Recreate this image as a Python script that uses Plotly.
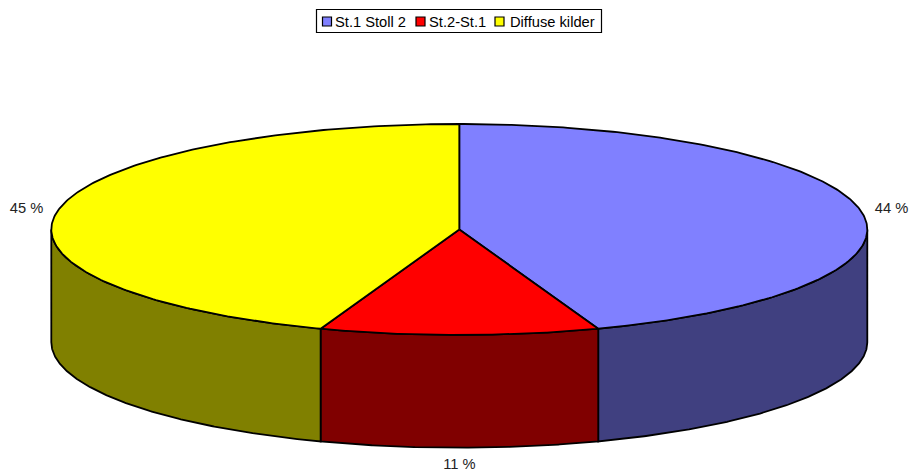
import numpy as np
import plotly.graph_objects as go

# Data
categories = ["St.1 Stoll 2", "St.2-St.1", "Diffuse kilder"]
values = [44.47, 11.05, 44.48]
percent_labels = ["44 %", "11 %", "45 %"]
top_colors = ["#8080FF", "#FF0000", "#FFFF00"]
side_colors = ["#404080", "#800000", "#808000"]

# Pie geometry (axis units equal pixels)
CX, CY, RX, RY, DEPTH = 459.3, 229.5, 408.0, 105.5, 112.7
LW = 1.8
FONT = "Liberation Sans, Arial, sans-serif"
FONT_SIZE = 14.7


def rim(t0, t1, dy=0.0, n=240):
    t = np.radians(np.linspace(t0, t1, n))
    return CX + RX * np.sin(t), CY + dy - RY * np.cos(t)


fig = go.Figure()
edges = np.concatenate([[0], np.cumsum(values)]) / sum(values) * 360

# Side walls: only the front half of the rim (90..270 degrees) is visible
for name, col, a, b in zip(categories, side_colors, edges[:-1], edges[1:]):
    lo, hi = max(a, 90), min(b, 270)
    if lo >= hi:
        continue
    xt, yt = rim(lo, hi)
    xb, yb = rim(hi, lo, DEPTH)
    fig.add_trace(go.Scatter(
        x=np.r_[xt, xb, xt[0]], y=np.r_[yt, yb, yt[0]], mode="lines", fill="toself",
        fillcolor=col, line=dict(color="black", width=LW), showlegend=False,
        hoverinfo="skip"))

# Top face slices
for name, col, a, b in zip(categories, top_colors, edges[:-1], edges[1:]):
    xt, yt = rim(a, b)
    fig.add_trace(go.Scatter(
        x=np.r_[CX, xt, CX], y=np.r_[CY, yt, CY], mode="lines", fill="toself",
        fillcolor=col, line=dict(color="black", width=LW), name=name, showlegend=False))

# Percent labels
label_x = [891.5, 459.5, 26.5]
label_y = [209, 465, 209]
fig.add_trace(go.Scatter(
    x=label_x, y=label_y, mode="text", text=percent_labels, showlegend=False,
    textposition="middle center", textfont=dict(family=FONT, size=FONT_SIZE, color="#222222"),
    hoverinfo="skip"))

# Legend drawn as box + square markers + text to match the tight original layout
swatch_x = [327, 420.5, 499.5]
text_x = [334, 427.5, 508.5]
SWATCH_Y = 21.5
fig.add_shape(type="rect", x0=316.5, x1=601.5, y0=9.5, y1=32.5,
              line=dict(color="black", width=1.2), fillcolor="white", layer="below")
fig.add_trace(go.Scatter(
    x=swatch_x, y=[SWATCH_Y] * 3, mode="markers", showlegend=False, hoverinfo="skip",
    marker=dict(symbol="square", size=9, color=top_colors, line=dict(color="black", width=1.2))))
annotations = [
    dict(x=x, y=SWATCH_Y, text=c, showarrow=False, xanchor="left", yanchor="middle",
         xref="x", yref="y", borderpad=0,
         font=dict(family=FONT, size=FONT_SIZE, color="black"))
    for x, c in zip(text_x, categories)
]

fig.update_layout(
    width=912, height=474, autosize=False, margin=dict(l=0, r=0, t=0, b=0),
    paper_bgcolor="white", plot_bgcolor="white", annotations=annotations,
    xaxis=dict(range=[0, 912], visible=False, fixedrange=True),
    yaxis=dict(range=[474, 0], visible=False, fixedrange=True),
    showlegend=False,
)
fig.write_html("out.html", config={"displayModeBar": False},
               post_script="document.body.style.margin='0';document.body.style.overflow='hidden';")
